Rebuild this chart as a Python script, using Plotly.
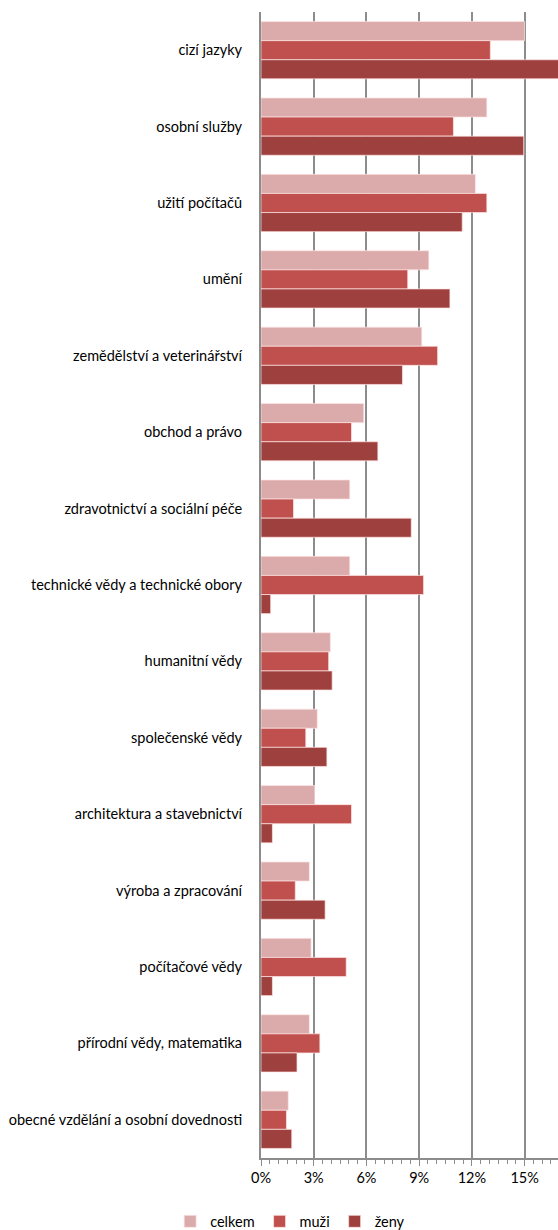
import plotly.graph_objects as go

categories = [
    "cizí jazyky",
    "osobní služby",
    "užití počítačů",
    "umění",
    "zemědělství a veterinářství",
    "obchod a právo",
    "zdravotnictví a sociální péče",
    "technické vědy a technické obory",
    "humanitní vědy",
    "společenské vědy",
    "architektura a stavebnictví",
    "výroba a zpracování",
    "počítačové vědy",
    "přírodní vědy, matematika",
    "obecné vzdělání a osobní dovednosti",
]

celkem = [15.0, 12.85, 12.2, 9.55, 9.15, 5.85, 5.05, 5.05, 3.95, 3.2, 3.05, 2.75, 2.85, 2.75, 1.55]
muzi = [13.05, 10.95, 12.85, 8.35, 10.05, 5.15, 1.85, 9.25, 3.85, 2.55, 5.15, 1.95, 4.85, 3.35, 1.45]
zeny = [17.0, 14.95, 11.45, 10.75, 8.05, 6.65, 8.55, 0.55, 4.05, 3.75, 0.65, 3.65, 0.65, 2.05, 1.75]

series = [
    ("celkem", celkem, "#DBAAAA"),
    ("muži", muzi, "#C0504D"),
    ("ženy", zeny, "#9E413E"),
]

fig = go.Figure()
for name, vals, color in series:
    fig.add_trace(go.Bar(
        name=name,
        y=categories,
        x=[v / 100 for v in vals],
        orientation="h",
        marker=dict(color=color, line=dict(color="rgba(255,230,230,0.7)", width=1)),
    ))

font_family = "Lato, 'Open Sans', sans-serif"

fig.update_layout(
    width=558,
    height=1230,
    barmode="group",
    bargap=0.25,
    bargroupgap=0,
    plot_bgcolor="white",
    paper_bgcolor="white",
    margin=dict(l=261, r=0, t=12, b=72),
    font=dict(family=font_family, size=14.5, color="#000000"),
    showlegend=True,
    legend=dict(
        orientation="h",
        xref="container",
        yref="container",
        x=0.52,
        xanchor="center",
        y=0.007,
        yanchor="middle",
        font=dict(size=14.5),
        itemwidth=30,
        traceorder="normal",
    ),
    xaxis=dict(
        range=[0, 0.169],
        dtick=0.03,
        tick0=0,
        tickformat=".0%",
        showgrid=True,
        gridcolor="#8C8C8C",
        gridwidth=2,
        showline=True,
        linecolor="#8C8C8C",
        linewidth=2,
        ticks="outside",
        ticklen=6,
        tickcolor="#8C8C8C",
        tickwidth=1,
        minor=dict(dtick=0.005, ticks="outside", ticklen=4, tickcolor="#8C8C8C", showgrid=False),
        zeroline=False,
        tickfont=dict(size=14.5),
    ),
    yaxis=dict(
        autorange="reversed",
        showline=True,
        linecolor="#8C8C8C",
        linewidth=2,
        showgrid=False,
        ticks="",
        ticklabelstandoff=14,
        tickfont=dict(size=14.5),
    ),
)

fig.write_html(
    "out.html",
    config={"displayModeBar": False},
    post_script="document.body.style.margin='0';document.body.style.overflow='hidden';",
)
